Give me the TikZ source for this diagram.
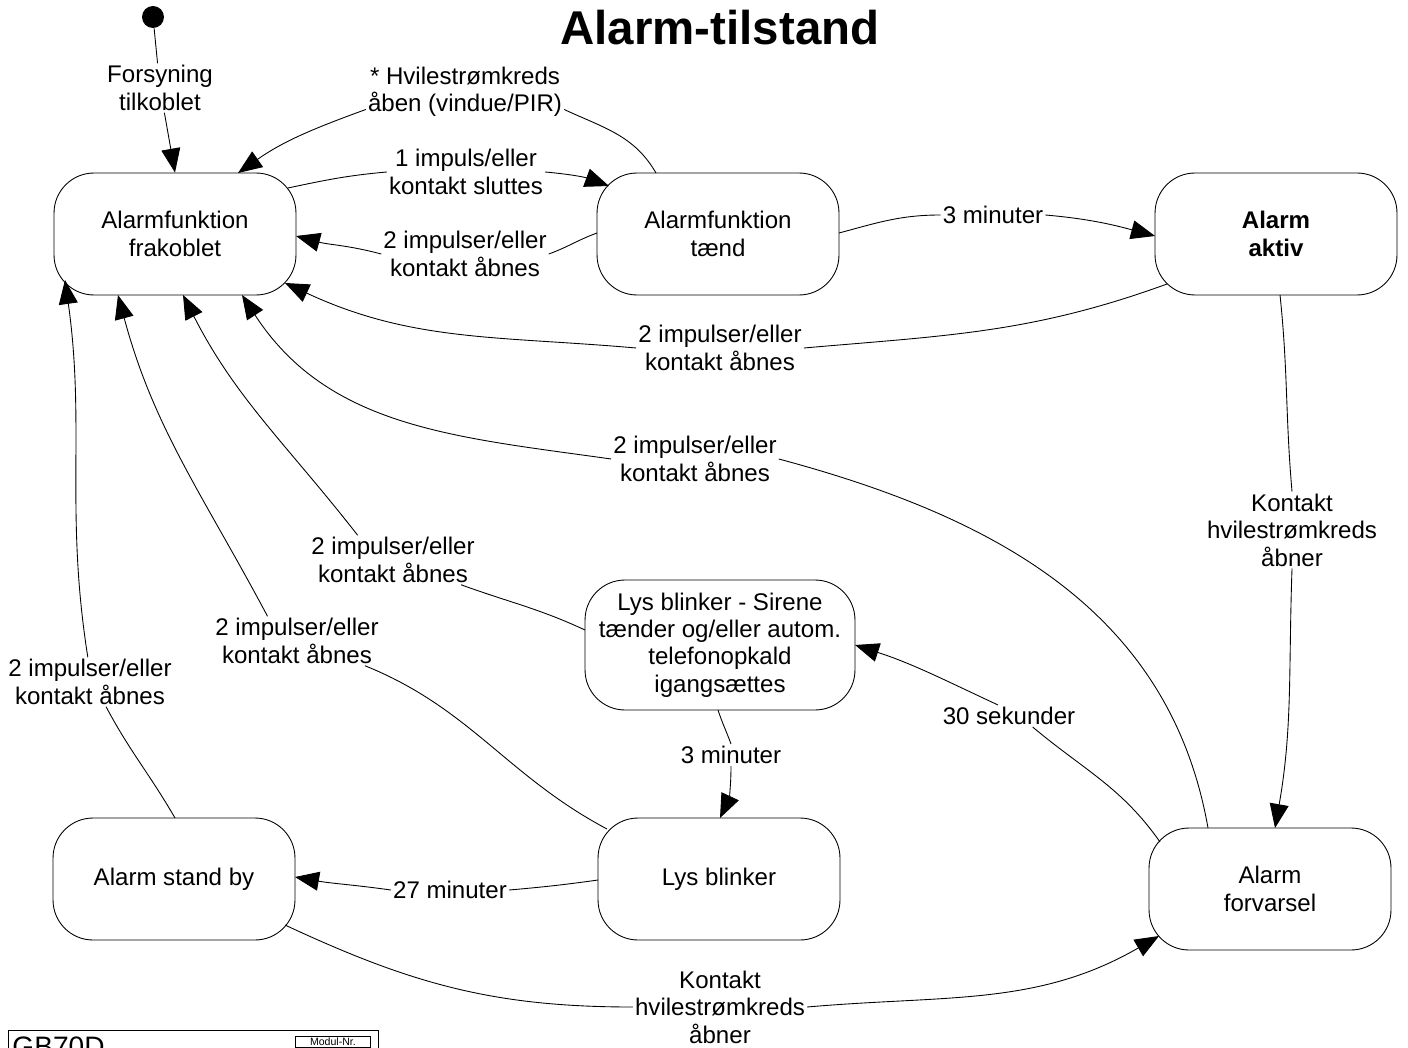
\documentclass[tikz,border=0pt]{standalone}
\usepackage{fontspec}
\setmainfont{Liberation Sans}
\usetikzlibrary{arrows.meta}

\newcommand{\lblfont}{\fontsize{13.7}{15.6}\selectfont}

\begin{document}
\begin{tikzpicture}[x=0.02cm, y=0.02cm, line width=.5pt,
  state/.style={rectangle, rounded corners=0.8cm, draw=black, fill=white,
    minimum width=4.84cm, minimum height=2.44cm, align=center, font=\lblfont},
  %
  trigger/.style={fill=white, inner sep=1pt, align=center, font=\lblfont},
  %
  start/.style={circle, fill=black, minimum size=0.44cm, inner sep=0pt},
  %
  >={Triangle[length=0.48cm, width=0.38cm]}
  ]

  \useasboundingbox (0,0) rectangle (1408,-1047);

  \node[font=\fontsize{27}{30}\selectfont\bfseries] (titel) at (720,-28) {Alarm-tilstand};

  \begin{scope}
    %%%%%%%%%%%%%%%%%%%%%%%%%%%%%%%
    \node [start] (init) at (153,-17) {};
    \node [state] (frak) at (175,-234) {Alarmfunktion\\frakoblet};
    \node [state] (taend) at (718,-234) {Alarmfunktion\\tænd};
    \node [state, font=\lblfont\bfseries] (aktiv) at (1276,-234) {Alarm\\aktiv};
    %%%%%%%%%%%%%%%%%%%%%%%%%%%%%%%
    \node [state, minimum width=5.4cm, minimum height=2.6cm] (sirene) at (720,-645)
      {Lys blinker - Sirene\\tænder og/eller autom.\\telefonopkald\\igangsættes};
    %%%%%%%%%%%%%%%%%%%%%%%%%%%%%%%
    \node [state] (standby) at (174,-879) {Alarm stand by};
    \node [state] (lys) at (719,-879) {Lys blinker};
    \node [state] (forvarsel) at (1270,-889) {Alarm\\forvarsel};
  \end{scope}

  \begin{scope}
    \node [trigger] (tForsyn) at (160,-88) {Forsyning\\tilkoblet};
    \node [trigger] (tHvile) at (465,-92) {* Hvilestrømkreds\\åben (vindue/PIR)};
    \node [trigger] (tTaend) at (466,-172) {1 impuls/eller\\kontakt sluttes};
    \node [trigger] (tSluk1) at (465,-254) {2 impulser/eller\\kontakt åbnes};
    \node [trigger] (tMin1) at (993,-215) {3 minuter};
    \node [trigger] (tSluk2) at (720,-348) {2 impulser/eller\\kontakt åbnes};
    \node [trigger] (tSluk3) at (695,-459) {2 impulser/eller\\kontakt åbnes};
    \node [trigger] (tKontakt1) at (1292,-530) {Kontakt\\hvilestrømkreds\\åbner};
    \node [trigger] (tSluk4) at (393,-560) {2 impulser/eller\\kontakt åbnes};
    \node [trigger] (tSluk5) at (297,-641) {2 impulser/eller\\kontakt åbnes};
    \node [trigger] (tSluk6) at (90,-682) {2 impulser/eller\\kontakt åbnes};
    \node [trigger] (tMin2) at (731,-755) {3 minuter};
    \node [trigger] (tMin3) at (450,-890) {27 minuter};
    \node [trigger] (tSek) at (1009,-716) {30 sekunder};
    \node [trigger] (tKontakt2) at (720,-1007) {Kontakt\\hvilestrømkreds\\åbner};
  \end{scope}

  \begin{scope}
    \draw [->] (init) -- (tForsyn) -- (frak.north);
    \draw [->] ([shift={(-62,61)}]taend.center) to[out=120,in=-25] (tHvile.-10)
      (tHvile.190) to[out=200,in=35] ([shift={(63,61)}]frak.center);
    \draw [->] ([shift={(113,46)}]frak.center) to[out=12,in=185] (tTaend.west)
      (tTaend.east) to[out=-5,in=160] ([shift={(-109,48)}]taend.center);
    \draw [->] ([shift={(-121,1)}]taend.center) to[out=200,in=20] (tSluk1.east)
      (tSluk1.west) to[out=165,in=-15] ([shift={(121,-2)}]frak.center);
    \draw [->] ([shift={(121,1)}]taend.center) to[out=15,in=180] (tMin1.west)
      (tMin1.east) to[out=-5,in=165] ([shift={(-121,-2)}]aktiv.center);
    \draw [->] ([shift={(-109,-50)}]aktiv.center) to[out=200,in=5] (tSluk2.east)
      (tSluk2.west) to[out=175,in=-25] ([shift={(110,-49)}]frak.center);
    \draw [->] ([shift={(-62,61)}]forvarsel.center) to[out=100,in=-15] (tSluk3.east)
      (tSluk3.west) to[out=172,in=-57] ([shift={(67,-61)}]frak.center);
    \draw [->] ([shift={(4,-61)}]aktiv.center) to[out=-84,in=95] (tKontakt1.north)
      (tKontakt1.south) to[out=-92,in=80] ([shift={(5,61)}]forvarsel.center);
    \draw [->] ([shift={(-135,15)}]sirene.center) to[out=155,in=-20] (tSluk4.-20)
      (tSluk4.145) to[out=128,in=-63] ([shift={(8,-61)}]frak.center);
    \draw [->] ([shift={(-112,50)}]lys.center) to[out=152,in=-22] (tSluk5.-20)
      (tSluk5.140) to[out=118,in=-75] ([shift={(-57,-61)}]frak.center);
    \draw [->] ([shift={(1,61)}]standby.center) to[out=120,in=-62] (tSluk6.-57)
      (tSluk6.95) to[out=99,in=-82] ([shift={(-110,-46)}]frak.center);
    \draw [->] ([shift={(-2,-65)}]sirene.center) to[out=-72,in=110] (tMin2.north)
      (tMin2.south) to[out=-90,in=65] ([shift={(1,61)}]lys.center);
    \draw [->] ([shift={(-121,-1)}]lys.center) to[out=188,in=5] (tMin3.east)
      (tMin3.west) to[out=172,in=-10] ([shift={(121,2)}]standby.center);
    \draw [->] ([shift={(-110,47)}]forvarsel.center) to[out=125,in=-40] (tSek.-25)
      (tSek.135) to[out=155,in=-18] ([shift={(135,0)}]sirene.center);
    \draw [->] ([shift={(111,-46)}]standby.center) to[out=-25,in=180] (tKontakt2.west)
      (tKontakt2.east) to[out=5,in=-150] ([shift={(-111,-47)}]forvarsel.center);
  \end{scope}

  % tegningshoved, skaaret af nederst
  \begin{scope}
    \clip (0,-1000) rectangle (1408,-1047);
    \draw (8,-1060) -- (8,-1030) -- (378,-1030) -- (378,-1060);
    \node [anchor=north west, inner sep=0pt, font=\fontsize{16}{18}\selectfont] (gb) at (12,-1036) {GB70D};
    \node [draw, anchor=north west, minimum width=1.5cm, inner sep=1pt,
      font=\fontsize{6}{7}\selectfont] (modul) at (295,-1036) {Modul-Nr.};
  \end{scope}

\end{tikzpicture}
\end{document}
